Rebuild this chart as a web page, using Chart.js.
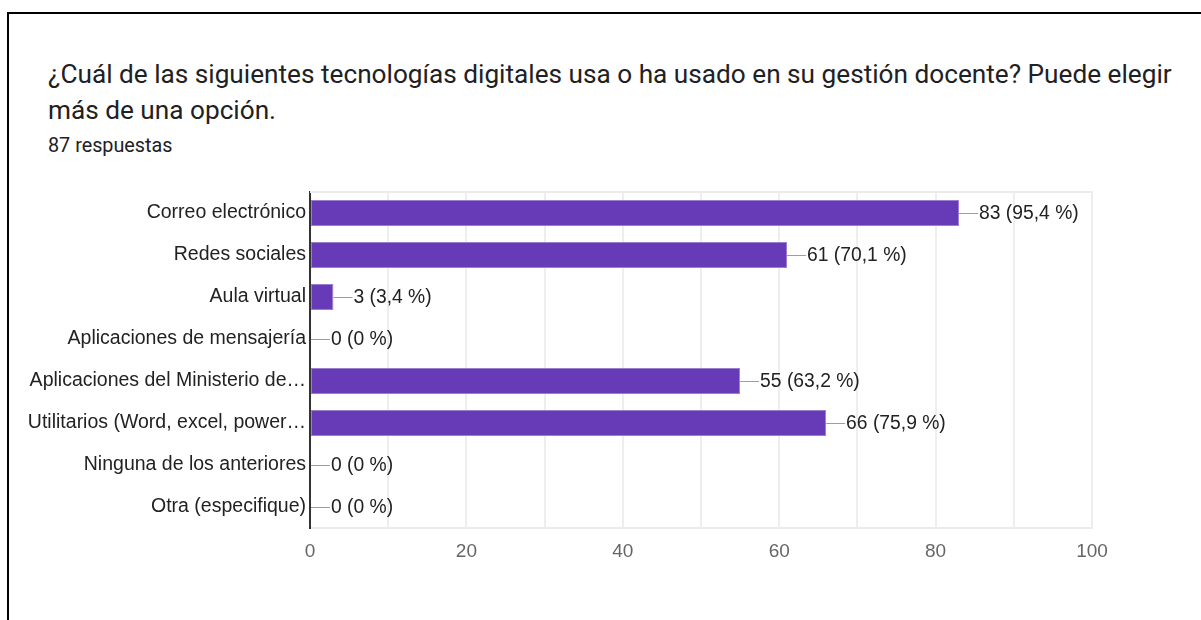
<!DOCTYPE html>
<html>
<head>
<meta charset="utf-8">
<script src="https://cdn.jsdelivr.net/npm/chart.js@4/dist/chart.umd.min.js"></script>
<style>
  body { margin: 0; background: #fff; width: 1201px; height: 620px; overflow: hidden; position: relative; }
  #frame { position: absolute; left: 7px; top: 12px; width: 1300px; height: 700px; border-left: 2px solid #000; border-top: 2px solid #000; }
  #title { position: absolute; left: 48px; top: 56px; font-family: Roboto, sans-serif; font-size: 26.2px; line-height: 36px; color: #202124; white-space: nowrap; }
  #count { position: absolute; left: 48px; top: 134px; font-family: Roboto, sans-serif; font-size: 19.8px; color: #202124; }
  #wrap { position: absolute; left: 0; top: 180px; width: 1201px; height: 400px; }
</style>
</head>
<body>
<div id="frame"></div>
<div id="title">¿Cuál de las siguientes tecnologías digitales usa o ha usado en su gestión docente? Puede elegir<br>más de una opción.</div>
<div id="count">87 respuestas</div>
<div id="wrap"><canvas id="chart"></canvas></div>
<script>
var categories = [
    "Correo electrónico",
    "Redes sociales",
    "Aula virtual",
    "Aplicaciones de mensajería",
    "Aplicaciones del Ministerio de…",
    "Utilitarios (Word, excel, power…",
    "Ninguna de los anteriores",
    "Otra (especifique)"
];
var counts = [83, 61, 3, 0, 55, 66, 0, 0];
var percents = ["95,4", "70,1", "3,4", "0", "63,2", "75,9", "0", "0"];
var xTicks = [0, 20, 40, 60, 80, 100];

// leader lines and "n (p %)" labels at the end of each bar
var barLabels = {
    id: "barLabels",
    afterDatasetsDraw: function (chart) {
        var ctx = chart.ctx;
        var meta = chart.getDatasetMeta(0);
        ctx.save();
        ctx.font = "19.3px 'Liberation Sans', Arial, sans-serif";
        ctx.textBaseline = "middle";
        meta.data.forEach(function (bar, i) {
            var x = bar.x + (counts[i] > 0 ? 0 : 1);
            ctx.strokeStyle = "#9e9e9e";
            ctx.lineWidth = 1;
            ctx.beginPath();
            ctx.moveTo(x, bar.y + 0.5);
            ctx.lineTo(x + 19, bar.y + 0.5);
            ctx.stroke();
            ctx.fillStyle = "#222";
            ctx.fillText(counts[i] + " (" + percents[i] + " %)", x + 20, bar.y + 1);
        });
        ctx.restore();
    },
    beforeDatasetsDraw: function (chart) {
        var a = chart.chartArea;
        var ctx = chart.ctx;
        ctx.save();
        ctx.strokeStyle = "#ebebeb";
        ctx.lineWidth = 2;
        ctx.beginPath();
        ctx.moveTo(a.left, a.top);
        ctx.lineTo(a.right + 1, a.top);
        ctx.stroke();
        ctx.restore();
    }
};

function BarChart(canvasId)
{
    this.canvasId = canvasId;
    this.chart = undefined;
}

BarChart.prototype.render = function ()
{
    var ctx = document.getElementById(this.canvasId);
    this.chart = new Chart(ctx, {
        type: "bar",
        data: {
            labels: categories,
            datasets: [{
                data: counts,
                backgroundColor: "#673ab7",
                borderColor: "#9a7fd1",
                borderWidth: 1,
                borderSkipped: false,
                barPercentage: 0.62,
                categoryPercentage: 1.0
            }]
        },
        options: {
            indexAxis: "y",
            responsive: true,
            maintainAspectRatio: false,
            animation: false,
            layout: { padding: { top: 12, right: 109, bottom: 12, left: 0 } },
            plugins: { legend: { display: false }, tooltip: { enabled: false } },
            scales: {
                x: {
                    min: 0,
                    max: 100,
                    afterFit: function (scale) { scale.height = 40; },
                    afterBuildTicks: function (scale) {
                        var t = [];
                        for (var v = 0; v <= 100; v += 10) t.push({ value: v });
                        scale.ticks = t;
                    },
                    grid: { color: "#eeeeee", lineWidth: 2, drawTicks: false },
                    border: { color: "#ebebeb", width: 2 },
                    ticks: {
                        padding: 12,
                        color: "#666",
                        font: { family: "'Liberation Sans', Arial, sans-serif", size: 19 },
                        callback: function (v) { return xTicks.indexOf(v) >= 0 ? String(v) : ""; }
                    }
                },
                y: {
                    afterFit: function (scale) {
                        scale.width = 310;
                        scale.paddingTop = 0;
                        scale.paddingBottom = 0;
                    },
                    grid: { display: false, drawTicks: false },
                    border: { color: "#333", width: 2 },
                    ticks: {
                        padding: 4,
                        color: "#222",
                        font: { family: "'Liberation Sans', Arial, sans-serif", size: 19.5 }
                    }
                }
            }
        },
        plugins: [barLabels]
    });
};

new BarChart("chart").render();
</script>
</body>
</html>
